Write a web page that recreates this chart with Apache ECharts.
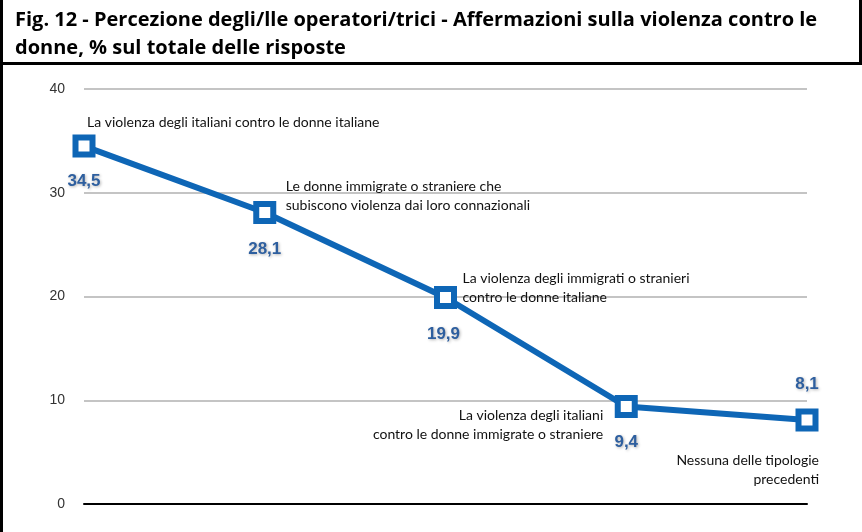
<!DOCTYPE html>
<html>
<head>
<meta charset="utf-8">
<script src="https://cdn.jsdelivr.net/npm/echarts@6/dist/echarts.min.js"></script>
<style>
  html, body { margin: 0; padding: 0; background: #fff; }
  #chart { width: 862px; height: 532px; }
</style>
</head>
<body>
<div id="chart"></div>
<script>
// categories (annotation text next to each point)
var categories = [
  'La violenza degli italiani contro le donne italiane',
  'Le donne immigrate o straniere che\nsubiscono violenza dai loro connazionali',
  'La violenza degli immigrati o stranieri\ncontro le donne italiane',
  'La violenza degli italiani\ncontro le donne immigrate o straniere',
  'Nessuna delle tipologie\nprecedenti'
];
var values = [34.5, 28.1, 19.9, 9.4, 8.1];
var yTicks = [0, 10, 20, 30, 40];

// where each label sits relative to its point
var valueLabelOffset = [[0, 35], [0, 37], [-2, 37], [0, 36], [0, -36]];
var catLabelLayout = [
  { align: 'left', offset: [3, -24] },
  { align: 'left', offset: [21, -16] },
  { align: 'left', offset: [17, -10] },
  { align: 'right', offset: [-23, 19] },
  { align: 'right', offset: [12, 50] }
];

var blue = '#0e66b6';
var chart = echarts.init(document.getElementById('chart'));

var valueData = values.map(function (v, i) {
  return {
    value: v,
    label: { offset: valueLabelOffset[i] }
  };
});
var catData = values.map(function (v, i) {
  return {
    value: v,
    label: { align: catLabelLayout[i].align, offset: catLabelLayout[i].offset }
  };
});

chart.setOption({
  animation: false,
  backgroundColor: '#fff',
  title: {
    text: 'Fig. 12 - Percezione degli/lle operatori/trici - Affermazioni sulla violenza contro le\ndonne, % sul totale delle risposte',
    left: 10,
    top: 1,
    textStyle: {
      fontFamily: 'Open Sans',
      fontWeight: 'bold',
      fontSize: 20,
      lineHeight: 28,
      color: '#000'
    }
  },
  graphic: [
    { type: 'rect', shape: { x: 0, y: 0, width: 3, height: 532 }, style: { fill: '#000' } },
    { type: 'rect', shape: { x: 859, y: 0, width: 3, height: 64 }, style: { fill: '#000' } },
    { type: 'rect', shape: { x: 0, y: 62, width: 862, height: 3 }, style: { fill: '#000' } }
  ],
  grid: { left: 84, right: 55, top: 89, bottom: 28 },
  xAxis: {
    type: 'category',
    data: categories,
    boundaryGap: false,
    axisLine: { show: true, lineStyle: { color: '#000', width: 2 } },
    axisTick: { show: false },
    axisLabel: { show: false },
    splitLine: { show: false }
  },
  yAxis: {
    type: 'value',
    min: yTicks[0],
    max: yTicks[yTicks.length - 1],
    interval: 10,
    axisLine: { show: false },
    axisTick: { show: false },
    axisLabel: {
      margin: 19,
      fontFamily: 'Liberation Sans',
      fontSize: 14,
      color: '#333'
    },
    splitLine: { lineStyle: { color: '#c4c4c4', width: 2 } }
  },
  series: [
    {
      type: 'line',
      data: valueData,
      symbol: 'rect',
      symbolSize: 17,
      itemStyle: { color: '#fff', borderColor: blue, borderWidth: 6 },
      lineStyle: { color: blue, width: 6 },
      z: 3,
      label: {
        show: true,
        position: 'inside',
        formatter: function (p) { return String(p.value).replace('.', ','); },
        fontFamily: 'Liberation Sans',
        fontWeight: 'bold',
        fontSize: 17,
        color: '#2e5f9f',
        textShadowColor: 'rgba(0,0,0,0.3)',
        textShadowBlur: 3,
        textShadowOffsetX: 1,
        textShadowOffsetY: 1
      }
    },
    {
      type: 'line',
      data: catData,
      symbol: 'circle',
      symbolSize: 1,
      itemStyle: { color: 'rgba(0,0,0,0)' },
      lineStyle: { width: 0, opacity: 0 },
      silent: true,
      z: 4,
      label: {
        show: true,
        position: 'inside',
        formatter: function (p) { return p.name; },
        fontFamily: 'Lato',
        fontSize: 14,
        lineHeight: 19,
        color: '#111'
      }
    }
  ]
});
</script>
</body>
</html>
